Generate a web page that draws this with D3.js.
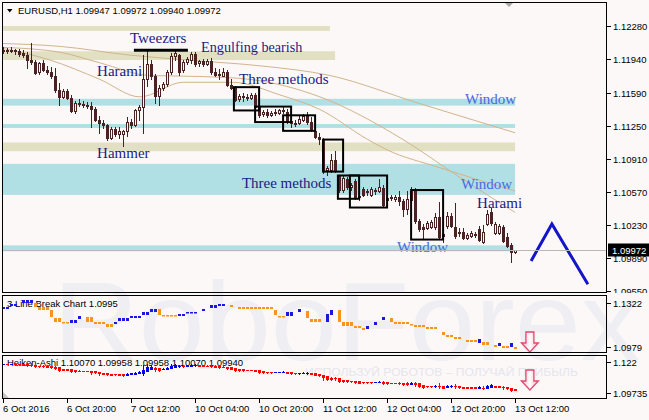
<!DOCTYPE html>
<html><head><meta charset="utf-8">
<script src="https://cdn.jsdelivr.net/npm/d3@7/dist/d3.min.js"></script>
<style>html,body{margin:0;padding:0;background:#fcf8f8;overflow:hidden}svg{display:block}</style>
</head><body>
<svg id="chart" width="649" height="420"></svg>
<script>
// ---------------- DATA ----------------
const symbolTitle = "EURUSD,H1 1.09947 1.09972 1.09940 1.09972";
const opens = [1.1203,1.1202,1.1203,1.1202,1.1202,1.1200,1.1198,1.1193,1.1191,1.1181,
 1.1190,1.1183,1.1181,1.1176,1.1162,1.1155,1.1161,1.1154,1.1140,1.1149,
 1.1148,1.1147,1.1146,1.1142,1.1131,1.1128,1.1126,1.1113,1.1122,1.1117,
 1.1117,1.1120,1.1129,1.1126,1.1141,1.1145,1.1173,1.1189,1.1176,1.1156,
 1.1164,1.1168,1.1181,1.1197,1.1198,1.1183,1.1191,1.1193,1.1199,1.1190,
 1.1192,1.1189,1.1192,1.1181,1.1178,1.1177,1.1181,1.1167,1.1164,1.1153,
 1.1156,1.1155,1.1154,1.1157,1.1145,1.1137,1.1139,1.1136,1.1138,1.1138,
 1.1141,1.1139,1.1130,1.1128,1.1128,1.1131,1.1136,1.1129,1.1120,1.1114,
 1.1111,1.1080,1.1080,1.1090,1.1073,1.1059,1.1070,1.1062,1.1068,1.1052,
 1.1060,1.1057,1.1054,1.1059,1.1058,1.1061,1.1049,1.1051,1.1050,1.1052,
 1.1048,1.1039,1.1049,1.1058,1.1027,1.1021,1.1020,1.1021,1.1021,1.1031,
 1.1012,1.1022,1.1032,1.1021,1.1015,1.1016,1.1010,1.1012,1.1013,1.1019,
 1.1005,1.1024,1.1036,1.1015,1.1015,1.1021,1.1011,1.1002,1.09947];
const highs = [1.1206,1.1205,1.1206,1.1204,1.1204,1.1203,1.1201,1.1210,1.1193,1.1191,
 1.1193,1.1187,1.1186,1.1185,1.1169,1.1163,1.1163,1.1157,1.1151,1.1153,
 1.1151,1.1150,1.1150,1.1145,1.1135,1.1131,1.1127,1.1124,1.1124,1.1124,
 1.1121,1.1134,1.1132,1.1142,1.1147,1.1198,1.1203,1.1193,1.1179,1.1167,
 1.1170,1.1183,1.1200,1.1203,1.1199,1.1193,1.1196,1.1201,1.1201,1.1193,
 1.1194,1.1194,1.1195,1.1185,1.1184,1.1185,1.1183,1.1173,1.1166,1.1158,
 1.1159,1.1158,1.1159,1.1159,1.1149,1.1141,1.1142,1.1140,1.1142,1.1143,
 1.1145,1.1142,1.1132,1.1131,1.1135,1.1137,1.1139,1.1134,1.1122,1.1118,
 1.1113,1.1084,1.1096,1.1099,1.1075,1.1073,1.1072,1.1066,1.1070,1.1055,
 1.1062,1.1060,1.1062,1.1061,1.1070,1.1064,1.1053,1.1054,1.1054,1.1058,
 1.1050,1.1058,1.1062,1.1061,1.1029,1.1024,1.1027,1.1028,1.1035,1.1047,
 1.1016,1.1036,1.1035,1.1046,1.1020,1.1020,1.1015,1.1017,1.1016,1.1022,
 1.1023,1.1038,1.1041,1.1026,1.1024,1.1023,1.1015,1.1004,1.09972];
const lows = [1.1200,1.1200,1.1201,1.1199,1.1197,1.1196,1.1185,1.1189,1.1179,1.1179,
 1.1182,1.1179,1.1174,1.1160,1.1147,1.1154,1.1153,1.1139,1.1138,1.1146,
 1.1145,1.1144,1.1124,1.1130,1.1118,1.1123,1.1111,1.1112,1.1115,1.1113,
 1.1104,1.1115,1.1123,1.1125,1.1131,1.1118,1.1166,1.1173,1.1149,1.1147,
 1.1162,1.1166,1.1179,1.1193,1.1178,1.1181,1.1189,1.1190,1.1187,1.1187,
 1.1187,1.1188,1.1179,1.1176,1.1173,1.1176,1.1166,1.1163,1.1151,1.1151,
 1.1151,1.1152,1.1153,1.1144,1.1134,1.1135,1.1134,1.1135,1.1136,1.1137,
 1.1138,1.1128,1.1124,1.1125,1.1127,1.1130,1.1127,1.1120,1.1113,1.1106,
 1.1077,1.1075,1.1078,1.1078,1.1057,1.1057,1.1060,1.1059,1.1050,1.1049,
 1.1053,1.1054,1.1053,1.1055,1.1057,1.1042,1.1046,1.1049,1.1048,1.1044,
 1.1032,1.1034,1.1046,1.1025,1.1017,1.1010,1.1019,1.1020,1.1019,1.1009,
 1.1006,1.1020,1.1021,1.1010,1.1012,1.1009,1.1009,1.1011,1.1011,1.1007,
 1.1004,1.1023,1.1023,1.1014,1.1014,1.1005,1.1000,1.0985,1.09940];
const closes = [1.1202,1.1203,1.1202,1.1203,1.1199,1.1198,1.1193,1.1191,1.1180,1.1190,
 1.1183,1.1181,1.1176,1.1162,1.1155,1.1161,1.1154,1.1140,1.1149,1.1148,
 1.1147,1.1146,1.1142,1.1131,1.1128,1.1126,1.1113,1.1122,1.1117,1.1120,
 1.1120,1.1129,1.1126,1.1141,1.1145,1.1173,1.1189,1.1176,1.1156,1.1164,
 1.1168,1.1181,1.1197,1.1200,1.1181,1.1191,1.1194,1.1199,1.1189,1.1192,
 1.1189,1.1192,1.1181,1.1178,1.1179,1.1181,1.1167,1.1164,1.1152,1.1156,
 1.1155,1.1154,1.1157,1.1145,1.1136,1.1139,1.1136,1.1138,1.1139,1.1141,
 1.1140,1.1130,1.1128,1.1127,1.1132,1.1135,1.1129,1.1121,1.1114,1.1112,
 1.1079,1.1082,1.1090,1.1080,1.1059,1.1071,1.1062,1.1064,1.1052,1.1053,
 1.1054,1.1058,1.1060,1.1058,1.1062,1.1044,1.1051,1.1052,1.1052,1.1048,
 1.1039,1.1050,1.1058,1.1027,1.1019,1.1019,1.1025,1.1026,1.1031,1.1011,
 1.1014,1.1032,1.1022,1.1012,1.1016,1.1010,1.1013,1.1015,1.1014,1.1008,
 1.1016,1.1034,1.1025,1.1024,1.1022,1.1007,1.1001,1.0995,1.09972];
const bidPrice = 1.09972;
const bidLabel = "1.09972";

const timeLabels = ["6 Oct 2016","6 Oct 20:00","7 Oct 12:00","10 Oct 04:00","10 Oct 20:00","11 Oct 12:00","12 Oct 04:00","12 Oct 20:00","13 Oct 12:00"];
const timeLabelBars = [0,16,32,48,64,80,96,112,128];

const priceTicks = [1.12280,1.11940,1.11590,1.11250,1.10910,1.10570,1.10230,1.09890,1.09550];
const priceTickLabels = ["1.12280","1.11940","1.11590","1.11250","1.10910","1.10570","1.10230","1.09890","1.09550"];

// moving averages (read as points along each line)
const maSlowBar = [-0.3,14.1,31.6,49.1,64.1,81.6,104.1,127.9];
const maSlowVal = [1.1210,1.1207,1.1198,1.1192,1.1187,1.1177,1.1148,1.1118];
const maMidBar  = [-0.3,14.1,24.1,36.6,49.1,61.6,79.1,99.9,114.1,127.9];
const maMidVal  = [1.1206,1.1201,1.1190,1.1177,1.1176,1.1173,1.1155,1.1111,1.1072,1.1036];
const maFastBar = [-0.3,11.6,24.1,34.1,44.9,57.4,69.1,79.1,91.1,95.6,109.1,127.9];
const maFastVal = [1.1205,1.1193,1.1173,1.1155,1.1170,1.1170,1.1157,1.1142,1.1111,1.1101,1.1082,1.1058];

// support/resistance zones
const zoneLow  = [1.1223,1.1193,1.1099,1.1146,1.1123,1.1054,1.0996];
const zoneHigh = [1.1228,1.1202,1.1108,1.1153,1.1127,1.1086,1.1002];
const zoneEnd  = [81.6,82.9,127.9,127.9,127.9,127.9,127.6];
const zoneKind = ["sand","sand","sand","window","window","window","window"];

// pattern boxes (Three methods)
const boxStart = [57.6,62.9,69.9,79.9,83.6,86.6,101.9];
const boxEnd   = [63.9,71.9,77.9,84.9,88.9,95.9,109.9];
const boxTop   = [1.1165,1.1145,1.1136,1.1111,1.1074,1.1074,1.1059];
const boxBot   = [1.1141,1.1129,1.1120,1.1078,1.1050,1.1041,1.1008];
const tweezersBars = [32.6,46.1];
const tweezersPrice = 1.1203;

// text annotations
const noteText  = ["Tweezers","Engulfing bearish","Harami","Three methods","Hammer","Three methods","Window","Window","Harami","Window"];
const noteBar   = [31.6,49.4,23.4,58.9,23.4,59.6,115.4,114.4,118.4,98.4];
const notePrice = [1.1210,1.1201,1.1176,1.1168,1.1092,1.1061,1.1148,1.1060,1.1040,1.0995];
const noteKind  = ["pattern","pattern","pattern","pattern","pattern","pattern","window","window","pattern","window"];

// forecast zigzag
const forecastBar = [131.9,137.1,146.1];
const forecastVal = [1.0986,1.1024,1.0962];

// 3 Line Break panel (segments)
const lbTitle = "3 Line Break Chart 1.0995";
const lbStart = [0,2,5,8,9,12,13,15,17,19,21,23,26,28,29,32,35,37,39,40,44,46,50,52,54,57,59,68,69,71,74,76,77,81,82,84,85,88,90,91,93,95,97,98,102,103,106,110,111,113,116,119,120,123,124,125,127,128];
const lbEnd   = [1,3,7,8,11,12,14,16,18,19,22,25,27,28,31,34,36,38,39,43,45,48,50,53,55,57,67,68,70,72,74,76,79,81,82,84,87,89,90,91,93,95,97,101,102,105,108,110,112,114,118,119,121,123,124,126,127,128];
const lbHigh  = [1.1287,1.1310,1.1342,1.1318,1.1287,1.1264,1.1201,1.1170,1.1186,1.1217,1.1209,1.1170,1.1154,1.1170,1.1201,1.1217,1.1248,1.1271,1.1271,1.1225,1.1232,1.1248,1.1271,1.1303,1.1310,1.1303,1.1287,1.1264,1.1217,1.1248,1.1271,1.1256,1.1193,1.1232,1.1264,1.1264,1.1170,1.1139,1.1123,1.1139,1.1170,1.1209,1.1201,1.1170,1.1154,1.1147,1.1131,1.1092,1.1069,1.1053,1.1030,1.1037,1.1014,1.0991,1.1006,1.0983,1.1006,1.0975];
const lbLow   = [1.1271,1.1295,1.1318,1.1287,1.1264,1.1209,1.1170,1.1162,1.1162,1.1193,1.1170,1.1154,1.1131,1.1154,1.1178,1.1201,1.1225,1.1248,1.1225,1.1217,1.1217,1.1240,1.1256,1.1279,1.1295,1.1287,1.1271,1.1225,1.1209,1.1217,1.1248,1.1201,1.1170,1.1170,1.1225,1.1170,1.1139,1.1123,1.1108,1.1115,1.1147,1.1186,1.1170,1.1154,1.1147,1.1131,1.1115,1.1069,1.1053,1.1037,1.1014,1.1006,1.0991,1.0975,1.0983,1.0967,1.0975,1.0959];
const lbUp    = [1,1,1,0,0,0,0,0,1,1,0,0,0,1,1,1,1,1,0,0,1,1,1,1,1,0,0,0,0,1,1,0,0,1,1,0,0,0,0,1,1,1,0,0,0,0,0,0,0,0,0,1,0,0,1,0,1,0];
const lbTicks = [1.1322,1.0979];
const lbTickLabels = ["1.1322","1.0979"];

// Heiken-Ashi panel
const haTitle = "Heiken-Ashi 1.10070 1.09958 1.09958 1.10070 1.09940";
const haTicks = [1.122,1.09735];
const haTickLabels = ["1.122","1.09735"];

// signal arrows in the sub-panels
const arrowBar = 131.6;
const arrowTopLB = 1.1092;
const arrowTopHA = 1.11554;

// ---------------- DRAW ----------------
const W = 649, H = 420;
const BG = "#fcf8f8", CANDLE = "#4a2222", MA = "#d2b48c";
const UI_FONT = "'Liberation Sans', Arial, sans-serif";
const SERIF = "'Liberation Serif', 'Times New Roman', serif";
const svg = d3.select("#chart");
svg.append("rect").attr("width", W).attr("height", H).attr("fill", BG);

const x  = d3.scaleLinear().domain([0, 128]).range([3.5, 515.5]);
const y  = d3.scaleLinear().domain([1.12280, 1.10230]).range([26, 225]);
const y1 = d3.scaleLinear().domain([1.1322, 1.0979]).range([302.5, 346.5]);
const y2 = d3.scaleLinear().domain([1.122, 1.09735]).range([362, 392.5]);

const defs = svg.append("defs");
defs.append("clipPath").attr("id", "cMain").append("rect").attr("x", 3).attr("y", 3).attr("width", 603).attr("height", 289);
defs.append("clipPath").attr("id", "cP1").append("rect").attr("x", 3).attr("y", 296).attr("width", 603).attr("height", 56);
defs.append("clipPath").attr("id", "cP2").append("rect").attr("x", 3).attr("y", 356).attr("width", 603).attr("height", 42);
defs.append("clipPath").attr("id", "cAxis").append("rect").attr("x", 0).attr("y", 0).attr("width", W).attr("height", 293);
const grad = defs.append("linearGradient").attr("id", "arrowGrad").attr("x1", 0).attr("x2", 1).attr("y1", 0).attr("y2", 0);
grad.append("stop").attr("offset", "0").attr("stop-color", "#f6aebf");
grad.append("stop").attr("offset", "0.5").attr("stop-color", "#ffffff");
grad.append("stop").attr("offset", "1").attr("stop-color", "#f6aebf");

// watermark
svg.append("text").attr("x", 53).attr("y", 360).attr("font-family", UI_FONT).attr("font-size", 112)
  .attr("fill", "#efeef3").attr("textLength", 587).attr("lengthAdjust", "spacingAndGlyphs").text("RoboForex");
svg.append("text").attr("x", 305).attr("y", 376).attr("font-family", UI_FONT).attr("font-size", 11)
  .attr("fill", "#e6e5ec").attr("textLength", 273).attr("lengthAdjust", "spacingAndGlyphs").text("ИСПОЛЬЗУЙ РОБОТОВ – ПОЛУЧАЙ ПРИБЫЛЬ");

// ---- main panel ----
const gM = svg.append("g").attr("clip-path", "url(#cMain)");
const zi = d3.range(zoneLow.length);
gM.selectAll("rect.zone").data(zi).join("rect").attr("class", "zone")
  .attr("x", 3).attr("width", i => x(zoneEnd[i]) - 3)
  .attr("y", i => y(zoneHigh[i])).attr("height", i => y(zoneLow[i]) - y(zoneHigh[i]))
  .attr("fill", i => zoneKind[i] === "sand" ? "#e2e0c3" : "#b0dfe4");

const maLine = d3.line().x(d => x(d[0])).y(d => y(d[1])).curve(d3.curveMonotoneX);
[[maSlowBar, maSlowVal], [maMidBar, maMidVal], [maFastBar, maFastVal]].forEach(([b, v]) => {
  gM.append("path").attr("d", maLine(b.map((bb, k) => [bb, v[k]])))
    .attr("fill", "none").attr("stroke", MA).attr("stroke-width", 1);
});

// bid line
const yBid = Math.round(y(bidPrice)) + 0.5;
svg.append("line").attr("x1", 3).attr("x2", 607).attr("y1", yBid).attr("y2", yBid).attr("stroke", "#b8b8b8");

// candles
const idx = d3.range(opens.length);
const fx = i => Math.floor(x(i));
gM.selectAll("rect.wick").data(idx).join("rect").attr("class", "wick")
  .attr("x", i => fx(i)).attr("width", 1)
  .attr("y", i => Math.round(y(highs[i])))
  .attr("height", i => Math.max(1, Math.round(y(lows[i])) - Math.round(y(highs[i])) + 1))
  .attr("fill", CANDLE);
const bodyTop = i => Math.round(y(Math.max(opens[i], closes[i])));
const bodyH = i => Math.max(1, Math.round(y(Math.min(opens[i], closes[i]))) - bodyTop(i) + 1);
gM.selectAll("rect.bear").data(idx.filter(i => closes[i] < opens[i] || bodyH(i) <= 2)).join("rect").attr("class", "bear")
  .attr("x", i => fx(i) - 1).attr("width", 3).attr("y", bodyTop).attr("height", bodyH).attr("fill", CANDLE);
gM.selectAll("rect.bull").data(idx.filter(i => closes[i] >= opens[i] && bodyH(i) > 2)).join("rect").attr("class", "bull")
  .attr("x", i => fx(i) - 0.5).attr("width", 2).attr("y", i => bodyTop(i) + 0.5).attr("height", i => bodyH(i) - 1)
  .attr("fill", BG).attr("stroke", CANDLE).attr("stroke-width", 1);

// pattern boxes
const bi = d3.range(boxStart.length);
gM.selectAll("rect.box").data(bi).join("rect").attr("class", "box")
  .attr("x", i => x(boxStart[i])).attr("width", i => x(boxEnd[i]) - x(boxStart[i]))
  .attr("y", i => y(boxTop[i])).attr("height", i => y(boxBot[i]) - y(boxTop[i]))
  .attr("fill", "none").attr("stroke", "#000").attr("stroke-width", 2);
gM.append("line").attr("x1", x(tweezersBars[0])).attr("x2", x(tweezersBars[1]))
  .attr("y1", y(tweezersPrice)).attr("y2", y(tweezersPrice)).attr("stroke", "#000").attr("stroke-width", 3);

// notes
gM.selectAll("text.note").data(d3.range(noteText.length)).join("text").attr("class", "note")
  .attr("x", i => x(noteBar[i])).attr("y", i => y(notePrice[i]))
  .attr("font-family", SERIF)
  .attr("font-size", i => noteText[i] === "Engulfing bearish" ? 14.2 : 15)
  .attr("fill", i => noteKind[i] === "window" ? "#4a6ae0" : "#1a1a86")
  .text(i => noteText[i]);

// forecast zigzag
gM.append("path").attr("d", d3.line().x(d => x(d[0])).y(d => y(d[1]))(forecastBar.map((b, k) => [b, forecastVal[k]])))
  .attr("fill", "none").attr("stroke", "#1414c8").attr("stroke-width", 3).attr("stroke-linejoin", "miter");

// chart-shift marker and title
svg.append("polygon").attr("points", "505,3 513,3 509,7").attr("fill", "#a8a8a8");
svg.append("polygon").attr("points", "7,9 12.5,9 9.75,12.5").attr("fill", "#000");
svg.append("text").attr("x", 18).attr("y", 14).attr("font-family", UI_FONT).attr("font-size", 9.5).attr("fill", "#000").text(symbolTitle);

// ---- panel 1: 3 line break ----
svg.append("text").attr("x", 7).attr("y", 307).attr("font-family", UI_FONT).attr("font-size", 9.5).attr("fill", "#000").text(lbTitle);
const g1 = svg.append("g").attr("clip-path", "url(#cP1)");
const lbBars = [];
lbStart.forEach((s, k) => { for (let b = s; b <= lbEnd[k]; b++) lbBars.push({ b, k }); });
g1.selectAll("rect").data(lbBars).join("rect")
  .attr("x", d => fx(d.b) - 1).attr("width", 3)
  .attr("y", d => Math.round(y1(lbHigh[d.k])))
  .attr("height", d => Math.max(1.5, Math.round(y1(lbLow[d.k])) - Math.round(y1(lbHigh[d.k]))))
  .attr("fill", d => lbUp[d.k] ? "#1818e0" : "#f7941d");

// ---- panel 2: Heiken-Ashi (computed from the candles) ----
svg.append("text").attr("x", 7).attr("y", 366).attr("font-family", UI_FONT).attr("font-size", 9.5).attr("fill", "#000").text(haTitle);
const ha = [];
idx.forEach(i => {
  const c = (opens[i] + highs[i] + lows[i] + closes[i]) / 4;
  const o = i === 0 ? (opens[i] + closes[i]) / 2 : (ha[i - 1].o + ha[i - 1].c) / 2;
  ha.push({ i, o, c, h: Math.max(highs[i], o, c), l: Math.min(lows[i], o, c) });
});
const g2 = svg.append("g").attr("clip-path", "url(#cP2)");
const haCol = d => d.c >= d.o ? "#0000f0" : "#ff0000";
g2.selectAll("rect.hw").data(ha).join("rect").attr("class", "hw")
  .attr("x", d => fx(d.i)).attr("width", 1)
  .attr("y", d => Math.round(y2(d.h))).attr("height", d => Math.max(1, Math.round(y2(d.l)) - Math.round(y2(d.h)) + 1))
  .attr("fill", haCol);
g2.selectAll("rect.hb").data(ha).join("rect").attr("class", "hb")
  .attr("x", d => fx(d.i) - 1).attr("width", 3)
  .attr("y", d => Math.round(y2(Math.max(d.o, d.c))))
  .attr("height", d => Math.max(1, Math.round(y2(Math.min(d.o, d.c))) - Math.round(y2(Math.max(d.o, d.c))) + 1))
  .attr("fill", haCol);

// signal arrows
function downArrow(cx, top) {
  const p = d3.path();
  p.moveTo(cx - 4, top); p.lineTo(cx + 4, top); p.lineTo(cx + 4, top + 11); p.lineTo(cx + 8.5, top + 11);
  p.lineTo(cx, top + 20); p.lineTo(cx - 8.5, top + 11); p.lineTo(cx - 4, top + 11); p.closePath();
  return p.toString();
}
[[y1(arrowTopLB)], [y2(arrowTopHA)]].forEach(([t]) => {
  svg.append("path").attr("d", downArrow(x(arrowBar), t)).attr("fill", "url(#arrowGrad)")
    .attr("stroke", "#e2486f").attr("stroke-width", 1.3).attr("stroke-linejoin", "miter");
});

// ---- borders ----
[[2.5, 604, 290], [295.5, 604, 57], [355.5, 604, 43]].forEach(([yy, w, h]) => {
  svg.append("rect").attr("x", 2.5).attr("y", yy).attr("width", w).attr("height", h)
    .attr("fill", "none").attr("stroke", "#000").attr("stroke-width", 1);
});
svg.append("polygon").attr("points", "3,392 3,398 9,398").attr("fill", "#c4c4c4");

// ---- right axes ----
const gAx = svg.append("g").attr("clip-path", "url(#cAxis)");
priceTicks.forEach((v, k) => {
  const yy = Math.round(y(v)) + 0.5;
  gAx.append("line").attr("x1", 607).attr("x2", 611).attr("y1", yy).attr("y2", yy).attr("stroke", "#000");
  gAx.append("text").attr("x", 613).attr("y", yy + 3.5).attr("font-family", UI_FONT).attr("font-size", 9.5).attr("fill", "#000").text(priceTickLabels[k]);
});
// bid price box
svg.append("rect").attr("x", 608).attr("y", yBid - 7).attr("width", 41).attr("height", 13).attr("fill", "#000");
svg.append("text").attr("x", 612).attr("y", yBid + 3.5).attr("font-family", UI_FONT).attr("font-size", 9.5).attr("fill", "#fff").text(bidLabel);

lbTicks.forEach((v, k) => {
  const yy = Math.round(y1(v)) + 0.5;
  svg.append("line").attr("x1", 607).attr("x2", 611).attr("y1", yy).attr("y2", yy).attr("stroke", "#000");
  svg.append("text").attr("x", 613).attr("y", yy + 3.5).attr("font-family", UI_FONT).attr("font-size", 9.5).attr("fill", "#000").text(lbTickLabels[k]);
});
haTicks.forEach((v, k) => {
  const yy = Math.round(y2(v)) + 0.5;
  svg.append("line").attr("x1", 607).attr("x2", 611).attr("y1", yy).attr("y2", yy).attr("stroke", "#000");
  svg.append("text").attr("x", 613).attr("y", yy + 3.5).attr("font-family", UI_FONT).attr("font-size", 9.5).attr("fill", "#000").text(haTickLabels[k]);
});

// ---- time axis ----
timeLabelBars.forEach((b, k) => {
  const xx = fx(b) + 0.5;
  svg.append("line").attr("x1", xx).attr("x2", xx).attr("y1", 399).attr("y2", 403).attr("stroke", "#000");
  svg.append("text").attr("x", xx - 0.5).attr("y", 412).attr("font-family", UI_FONT).attr("font-size", 9.5).attr("fill", "#000").text(timeLabels[k]);
});
</script>
</body></html>
